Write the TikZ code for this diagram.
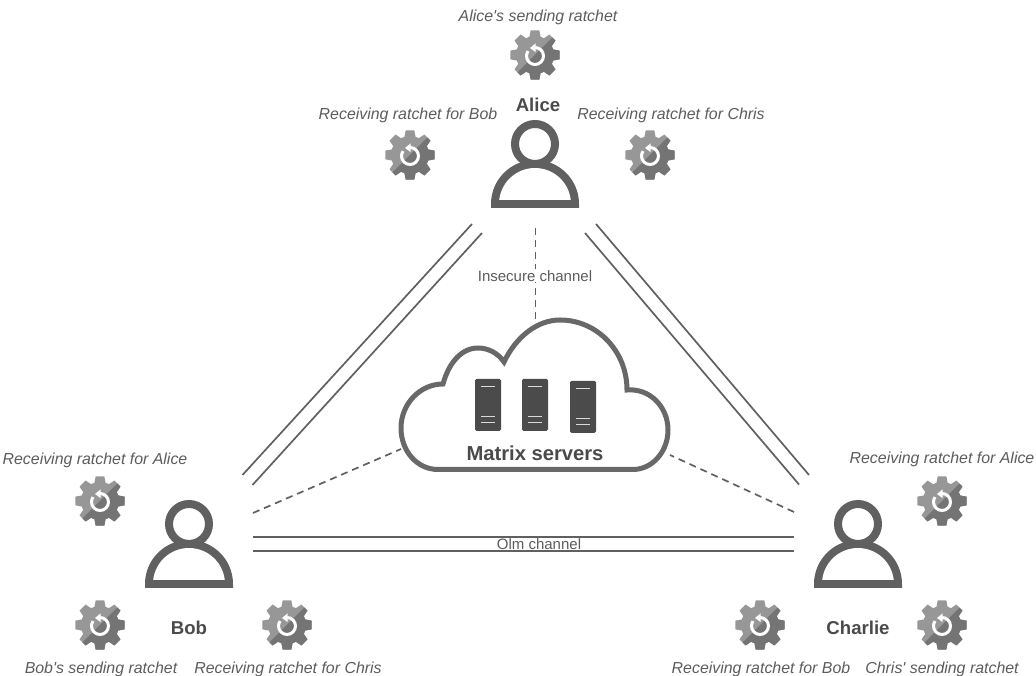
\documentclass[tikz,border=0pt]{standalone}
\usepackage{fontspec}
\setmainfont{Liberation Sans}
\usetikzlibrary{arrows.meta}

\definecolor{inkgrey}{HTML}{5F605F}
\definecolor{textgrey}{HTML}{4A4A4A}
\definecolor{gearlight}{HTML}{979797}
\definecolor{geardark}{HTML}{747474}
\definecolor{serverfill}{HTML}{4B4B4B}

\tikzset{
    ratchetlabel/.style={font=\fontsize{15.9}{18}\selectfont\itshape, text=textgrey!90, inner sep=0pt},
    namelabel/.style={font=\fontsize{18.6}{20}\selectfont\bfseries, text=textgrey, inner sep=0pt},
    channellabel/.style={font=\fontsize{15}{18}\selectfont, text=textgrey!90, inner sep=1pt},
    channel/.style={draw=inkgrey, line width=1.7pt},
    insecure/.style={channel, dash pattern=on 7pt off 5pt},
    person/.pic={
        \fill[inkgrey] (-44,-64) -- (-44,-60) arc (180:0:44) -- (44,-64) -- cycle;
        \fill[white] (-35.8,-56) arc (173.6:6.4:36) -- cycle;
        \draw[inkgrey, line width=8pt, fill=white] (0,0) circle (20);
    },
    gear/.pic={
        \begin{scope}
            \clip (-22.5:19) foreach \a in {0,45,...,315} {
                -- (\a-17:19) -- (\a-10:25) -- (\a+10:25) -- (\a+17:19) -- (\a+22.5:19)
            } -- cycle;
            \fill[gearlight] (-30,-30) rectangle (30,30);
            \fill[geardark] (30,30) -- (-30,-30) -- (30,-30) -- cycle;
        \end{scope}
        \draw[white, line width=3pt] (0,-1) ++(90:8.5) arc (90:-215:8.5);
        \fill[white] (0.5,11.5) -- (0.5,3) -- (-5,7) -- cycle;
    },
    server/.pic={
        \fill[serverfill, rounded corners=1.5pt] (0,0) rectangle (26,-52);
        \draw[white!85!black, line width=1pt] (6,-8) -- (20,-8) (6,-38) -- (20,-38) (6,-44) -- (20,-44);
    },
}

\begin{document}
\begin{tikzpicture}[x=1pt, y=1pt]
    \useasboundingbox (0, 0) rectangle (1036, 676);

    % free ends of the channels
    \coordinate (abOuterTop) at (472, 452);
    \coordinate (abOuterEnd) at (242.5, 201);
    \coordinate (abInnerTop) at (482, 443);
    \coordinate (abInnerEnd) at (252.5, 191);
    \coordinate (acOuterTop) at (596, 452);
    \coordinate (acOuterEnd) at (809, 201);
    \coordinate (acInnerTop) at (585, 443);
    \coordinate (acInnerEnd) at (799, 191.5);
    \coordinate (bcUpperA) at (253, 139);
    \coordinate (bcUpperB) at (794, 139);
    \coordinate (bcLowerA) at (253, 125);
    \coordinate (bcLowerB) at (794, 125);
    \coordinate (dashAliceA) at (535.5, 448);
    \coordinate (dashAliceB) at (535.5, 356);
    \coordinate (dashBobA) at (253, 163);
    \coordinate (dashBobB) at (401, 227);
    \coordinate (dashCharlieA) at (794, 164);
    \coordinate (dashCharlieB) at (670, 221);

    \draw[channel] (abOuterTop) -- (abOuterEnd);
    \draw[channel] (abInnerTop) -- (abInnerEnd);
    \draw[channel] (acOuterTop) -- (acOuterEnd);
    \draw[channel] (acInnerTop) -- (acInnerEnd);
    \draw[channel] (bcUpperA) -- (bcUpperB);
    \draw[channel] (bcLowerA) -- (bcLowerB);
    \draw[insecure] (dashAliceA) -- (dashAliceB);
    \draw[insecure] (dashBobA) -- (dashBobB);
    \draw[insecure] (dashCharlieA) -- (dashCharlieB);

    \node[channellabel, fill=white] (insecureLabel) at (535, 400) {Insecure channel};
    \node[channellabel] (olmLabel) at (539, 132) {Olm channel};

    % people
    \pic at (535, 532) {person};
    \pic at (189, 152) {person};
    \pic at (858, 152) {person};

    % ratchets
    \pic at (535, 621) {gear};
    \pic at (410, 521) {gear};
    \pic at (650, 521) {gear};
    \pic at (100, 175) {gear};
    \pic at (100, 51) {gear};
    \pic at (287, 51) {gear};
    \pic at (942, 175) {gear};
    \pic at (760, 51) {gear};
    \pic at (942, 51) {gear};

    \node[ratchetlabel] (aliceSend) at (538, 659) {Alice\textquotesingle s sending ratchet};
    \node[ratchetlabel] (aliceBob) at (408, 561) {Receiving ratchet for Bob};
    \node[ratchetlabel] (aliceChris) at (671, 561) {Receiving ratchet for Chris};
    \node[ratchetlabel] (bobAlice) at (95, 216) {Receiving ratchet for Alice};
    \node[ratchetlabel] (bobSend) at (101, 7) {Bob\textquotesingle s sending ratchet};
    \node[ratchetlabel] (bobChris) at (288, 7) {Receiving ratchet for Chris};
    \node[ratchetlabel] (charlieAlice) at (942, 217) {Receiving ratchet for Alice};
    \node[ratchetlabel] (charlieBob) at (761, 7) {Receiving ratchet for Bob};
    \node[ratchetlabel] (charlieSend) at (942, 7) {Chris\textquotesingle{} sending ratchet};

    \node[namelabel] (alice) at (538, 571) {Alice};
    \node[namelabel] (bob) at (189, 48) {Bob};
    \node[namelabel] (charlie) at (858, 48) {Charlie};

    % cloud
    \draw[inkgrey!95, line width=5pt, fill=white] (438, 206.5)
        .. controls (417, 206.5) and (401, 225) .. (401, 248)
        .. controls (401, 272) and (420, 292) .. (443, 292)
        .. controls (449, 314) and (462, 328) .. (478, 328)
        .. controls (488, 328) and (498, 323) .. (504, 314)
        .. controls (516, 339) and (537, 356) .. (560, 356)
        .. controls (597, 356) and (627, 325) .. (627, 286)
        .. controls (650, 288) and (668, 269) .. (668, 246)
        .. controls (668, 224) and (652, 206.5) .. (633, 206.5) -- cycle;
    \pic at (475, 297) {server};
    \pic at (522, 297) {server};
    \pic at (570, 295) {server};
    \node[namelabel, font=\fontsize{20.2}{22}\selectfont\bfseries] (matrix) at (535, 223) {Matrix servers};
\end{tikzpicture}
\end{document}
